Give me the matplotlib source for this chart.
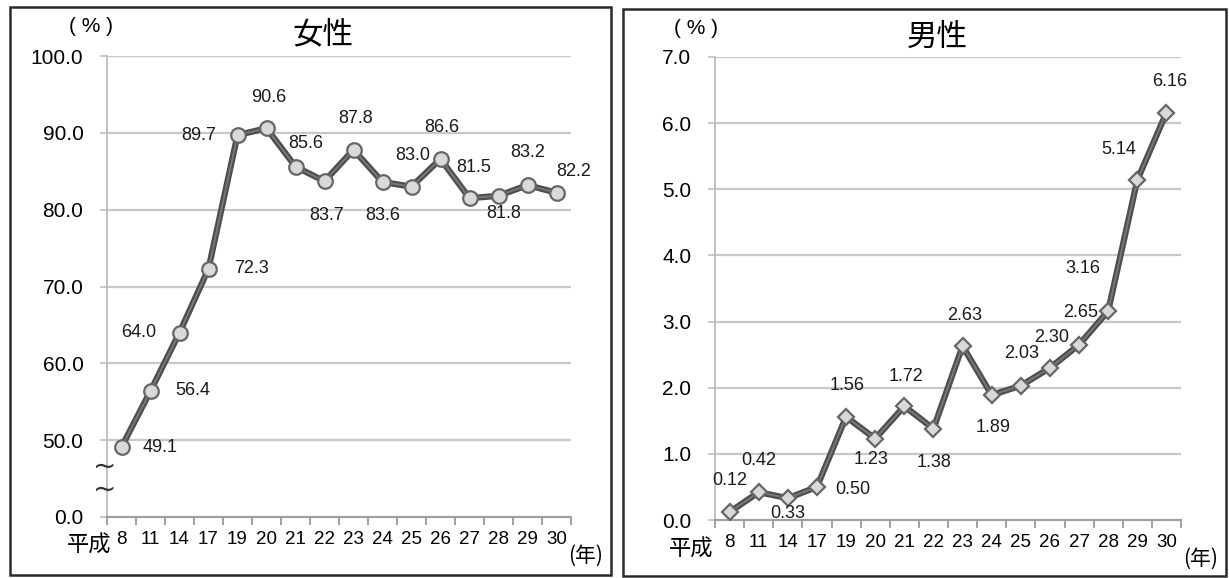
import matplotlib
matplotlib.use("Agg")
import matplotlib.pyplot as plt
from matplotlib.patches import Rectangle

plt.rcParams['font.family'] = ['Liberation Sans', 'Noto Sans CJK JP', 'DejaVu Sans']

# 平成 years on the category axis
years = ["8", "11", "14", "17", "19", "20", "21", "22", "23", "24", "25",
         "26", "27", "28", "29", "30"]

# Rate for women (%)
female = [49.1, 56.4, 64.0, 72.3, 89.7, 90.6, 85.6, 83.7, 87.8, 83.6, 83.0,
          86.6, 81.5, 81.8, 83.2, 82.2]

# Rate for men (%)
male = [0.12, 0.42, 0.33, 0.50, 1.56, 1.23, 1.72, 1.38, 2.63, 1.89, 2.03,
        2.30, 2.65, 3.16, 5.14, 6.16]

# Women's axis is broken: the bottom tick stands for 0, the rest run 50-100
female_tick_vals = [40, 50, 60, 70, 80, 90, 100]
female_tick_labels = ["0.0", "50.0", "60.0", "70.0", "80.0", "90.0", "100.0"]
male_tick_vals = [0, 1, 2, 3, 4, 5, 6, 7]
male_tick_labels = ["0.0", "1.0", "2.0", "3.0", "4.0", "5.0", "6.0", "7.0"]

# label offsets in pixels (dx, dy up) relative to each point
female_offsets = [(39, 0), (42, 0), (-41, 0), (43, 0), (-39, 0), (2, 31),
                  (10, 23), (2, -34), (2, 31), (0, -33), (1, 31), (1, 31),
                  (4, 31), (5, -18), (0, 33), (17, 21)]
male_offsets = [(0, 32), (0, 32), (0, -15), (36, -3), (1, 31), (-4, -21),
                (2, 30), (1, -34), (2, 31), (1, -33), (1, 32), (2, 30),
                (2, 32), (-25, 42), (-19, 31), (3, 31)]

W, H = 1229, 578
fig = plt.figure(figsize=(W / 100, H / 100), dpi=100)


def fx(x):
    return x / W


def fy(y):
    return 1 - y / H


PX = 0.72  # points per pixel at 100 dpi
CJK = ['Noto Sans CJK JP', 'DejaVu Sans']


def style_axes(ax, n, tick_vals, tick_labels, ylim):
    ax.set_xlim(-0.5, n - 0.5)
    ax.set_ylim(*ylim)
    ax.set_yticks(tick_vals)
    ax.set_yticklabels(tick_labels, fontsize=15)
    ax.set_xticks([i - 0.5 for i in range(n + 1)])
    ax.set_xticklabels([])
    ax.set_xticks(range(n), minor=True)
    ax.set_xticklabels(years, minor=True, fontsize=13.5)
    ax.tick_params(axis='x', which='major', direction='out', length=6,
                   width=1.3, color='#9a9a9a')
    ax.tick_params(axis='x', which='minor', length=0, pad=10)
    ax.tick_params(axis='y', direction='out', length=5, width=1.3,
                   color='#c4c4c4', pad=12)
    for s in ['top', 'right']:
        ax.spines[s].set_visible(False)
    ax.spines['left'].set_color('#bdbdbd')
    ax.spines['left'].set_linewidth(1.3)
    ax.spines['bottom'].set_color('#a0a0a0')
    ax.spines['bottom'].set_linewidth(1.6)
    for v in tick_vals[1:]:
        ax.axhline(v, color='#c8c8c8', lw=1.6, zorder=1)
    ax.patch.set_alpha(0)


def draw_series(ax, vals, marker, msize, offsets, fmt):
    x = range(len(vals))
    ax.plot(x, vals, color='#4e4e4e', lw=4.5, zorder=3, solid_capstyle='round')
    ax.plot(x, vals, color='#7a7a7a', lw=1.3, zorder=4)
    ax.plot(x, vals, ls='none', marker=marker, ms=msize, mfc='#d9d9d9',
            mec='#666666', mew=1.6, zorder=5)
    for i, v in enumerate(vals):
        dx, dy = offsets[i]
        ax.annotate(fmt.format(v), (i, v), xytext=(dx * PX, dy * PX),
                    textcoords='offset points', ha='center', va='center',
                    fontsize=13, color='#1a1a1a', zorder=6)


# Panel frames
fig.add_artist(Rectangle((fx(10), fy(575)), fx(611) - fx(10), fy(7) - fy(575),
                         transform=fig.transFigure, fill=False,
                         ec='#2a2a2a', lw=1.8))
fig.add_artist(Rectangle((fx(623), fy(576)), fx(1226) - fx(623), fy(9) - fy(576),
                         transform=fig.transFigure, fill=False,
                         ec='#2a2a2a', lw=1.8))

# Women
ax_f = fig.add_axes([fx(107), fy(517), fx(571) - fx(107), fy(56) - fy(517)])
style_axes(ax_f, len(years), female_tick_vals, female_tick_labels, (40, 100))
draw_series(ax_f, female, 'o', 10.5, female_offsets, "{:.1f}")

# Men
ax_m = fig.add_axes([fx(715), fy(520), fx(1181) - fx(715), fy(57) - fy(520)])
style_axes(ax_m, len(years), male_tick_vals, male_tick_labels, (0, 7))
draw_series(ax_m, male, 'D', 8.5, male_offsets, "{:.2f}")

# Axis-break mark on the women's axis
fig.text(fx(105), fy(478), "~\n~", fontsize=20, ha='center', va='center',
         color='#333333', family='DejaVu Sans', linespacing=0.75)

# Titles and unit labels
fig.text(fx(323), fy(35), "女性", fontsize=22, ha='center', va='center',
         family=CJK)
fig.text(fx(937), fy(37), "男性", fontsize=22, ha='center', va='center',
         family=CJK)
fig.text(fx(91), fy(27), "( % )", fontsize=15, ha='center', va='center')
fig.text(fx(696), fy(29), "( % )", fontsize=15, ha='center', va='center')
fig.text(fx(89), fy(545), "平成", fontsize=16, ha='center', va='center',
         family=CJK)
fig.text(fx(691), fy(549), "平成", fontsize=16, ha='center', va='center',
         family=CJK)
fig.text(fx(586), fy(556), "(年)", fontsize=15, ha='center', va='center',
         family=CJK)
fig.text(fx(1201), fy(559), "(年)", fontsize=15, ha='center', va='center',
         family=CJK)

fig.savefig("out.png", dpi=100)
